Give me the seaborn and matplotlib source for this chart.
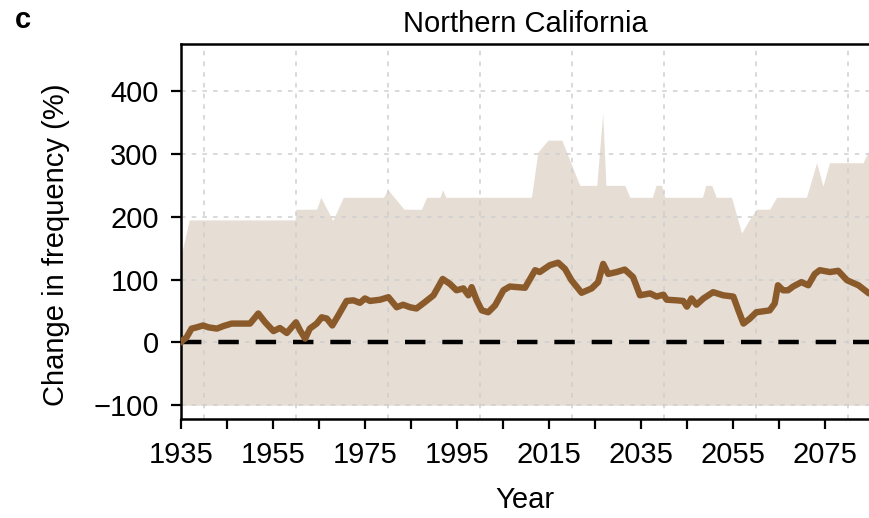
import matplotlib
matplotlib.use('Agg')
from matplotlib import pyplot as plt
import numpy as np
import seaborn as sns
import pandas as pd

# mean change in frequency (%)
mean_years = [1935, 1935.3, 1936.2, 1937.3, 1938.4, 1939.8, 1941, 1942.8, 1944.2, 1946,
              1950, 1951.8, 1953.3, 1955.1, 1956.5, 1958, 1960, 1960.9, 1962, 1963,
              1964.5, 1965.6, 1966.7, 1967.9, 1969.2, 1971, 1972.5, 1973.9, 1975, 1976.1,
              1978.3, 1980.1, 1981.9, 1983.3, 1984.8, 1986.2, 1988, 1989.9, 1991.9, 1993.5,
              1994.9, 1996.4, 1997.5, 1998.2, 1999.3, 2000.4, 2001.8, 2003.3, 2005.1, 2006.5,
              2009.8, 2012, 2013, 2015.2, 2017, 2018.5, 2019.9, 2022.1, 2024.3, 2025.7,
              2026.8, 2027.9, 2029.7, 2031.5, 2033.3, 2034.8, 2037, 2038.4, 2039.9, 2040.6,
              2042.8, 2044.2, 2045, 2046, 2047.1, 2048.6, 2050.7, 2052.9, 2055.1, 2056.2,
              2057.3, 2058.7, 2060.1, 2063, 2064.1, 2064.8, 2065.9, 2067, 2068.1, 2069.9,
              2071.4, 2072.8, 2073.9, 2076.1, 2077.9, 2079.8, 2082.3, 2084.6]
mean_vals = [0, 3, 8, 22, 24, 27, 24, 22, 26, 30,
             30, 46, 32, 18, 23, 15, 32, 19, 6, 22,
             30, 40, 38, 27, 43, 66, 67, 63, 70, 66,
             68, 72, 56, 60, 56, 54, 64, 75, 101, 93,
             83, 86, 75, 88, 67, 51, 48, 59, 83, 89,
             87, 115, 112, 123, 127, 117, 99, 79, 86, 96,
             125, 109, 112, 116, 104, 75, 78, 73, 76, 68,
             67, 66, 57, 70, 60, 70, 80, 75, 73, 51,
             30, 38, 48, 51, 62, 91, 83, 83, 89, 96,
             91, 109, 115, 112, 114, 99, 91, 78]

# spread (shaded range)
band_years = [1935, 1936.8, 1959.8, 1960, 1964.5, 1965.4, 1968, 1970.3, 1979, 1980,
              1983.5, 1987.3, 1988.4, 1991.3, 1991.9, 1992.6, 2011.2, 2012.6, 2014.8, 2017.8,
              2021.7, 2025.4, 2026.7, 2027.4, 2031.5, 2032.6, 2037.5, 2038.3, 2039.5, 2040.2,
              2048.4, 2049.1, 2050.4, 2051.4, 2054.7, 2056.9, 2058.3, 2060.1, 2063, 2064.5,
              2071, 2073.2, 2074.6, 2076, 2083.3, 2084.6]
band_upper = [138, 195, 195, 212, 212, 231, 194, 231, 231, 243,
              212, 212, 231, 231, 243, 231, 231, 303, 322, 322,
              250, 250, 364, 250, 250, 231, 231, 250, 250, 231,
              231, 250, 250, 231, 231, 174, 192, 212, 212, 231,
              231, 286, 249, 286, 286, 306]
band_lower = [-100] * len(band_years)

x_ticks = list(range(1935, 2085, 10))
x_labels = [str(t) if (t - 1935) % 20 == 0 else '' for t in x_ticks]
y_ticks = [-100, 0, 100, 200, 300, 400]

df = pd.DataFrame({'Year': mean_years, 'Change': mean_vals})

sns.set_style('ticks')
plt.rcParams['font.family'] = ['Liberation Sans', 'DejaVu Sans']
plt.rcParams['text.color'] = 'black'
plt.rcParams['axes.labelcolor'] = 'black'
plt.rcParams['xtick.color'] = 'black'
plt.rcParams['ytick.color'] = 'black'

fig = plt.figure(figsize=(8.69, 5.18), dpi=100)
ax = fig.add_axes([0.2083, 0.191, 0.7917, 0.724])

ax.fill_between(band_years, band_lower, band_upper, color='#e6ddd4', lw=0, zorder=1)

for gx in range(1940, 2085, 20):
    ax.axvline(gx, color='#cfcfcf', lw=1.1, ls=(0, (3, 4)), zorder=2)
for gy in y_ticks:
    ax.axhline(gy, color='#cfcfcf', lw=1.1, ls=(0, (3, 4)), zorder=2)

ax.axhline(0, color='black', lw=3.2, ls=(0, (4.6, 3.8)), zorder=3)
sns.lineplot(data=df, x='Year', y='Change', estimator=None, color='#8b5a2b',
             lw=4.6, ax=ax, zorder=4, solid_joinstyle='round', solid_capstyle='round')

ax.set_xlim(1935, 2084.6)
ax.set_ylim(-122, 475)
ax.set_xticks(x_ticks)
ax.set_xticklabels(x_labels)
ax.set_yticks(y_ticks)
ax.set_yticklabels(['\u2212100', '0', '100', '200', '300', '400'])
ax.tick_params(axis='both', labelsize=21, length=7, width=1.6, direction='out', color='black')
ax.tick_params(axis='x', pad=9)
ax.tick_params(axis='y', pad=9)

for s in ['left', 'bottom', 'top']:
    ax.spines[s].set_linewidth(1.8)
    ax.spines[s].set_color('black')
ax.spines['right'].set_visible(False)

ax.set_xlabel('Year', fontsize=21)
ax.set_ylabel('Change in frequency (%)', fontsize=21)
ax.xaxis.set_label_coords(0.5, -0.178)
ax.yaxis.set_label_coords(-0.161, 0.465)
ax.set_title('Northern California', fontsize=21, pad=9)
fig.text(0.017, 0.962, 'c', fontsize=21, fontweight='bold', va='center', ha='left')

fig.savefig('out.png', dpi=100)
